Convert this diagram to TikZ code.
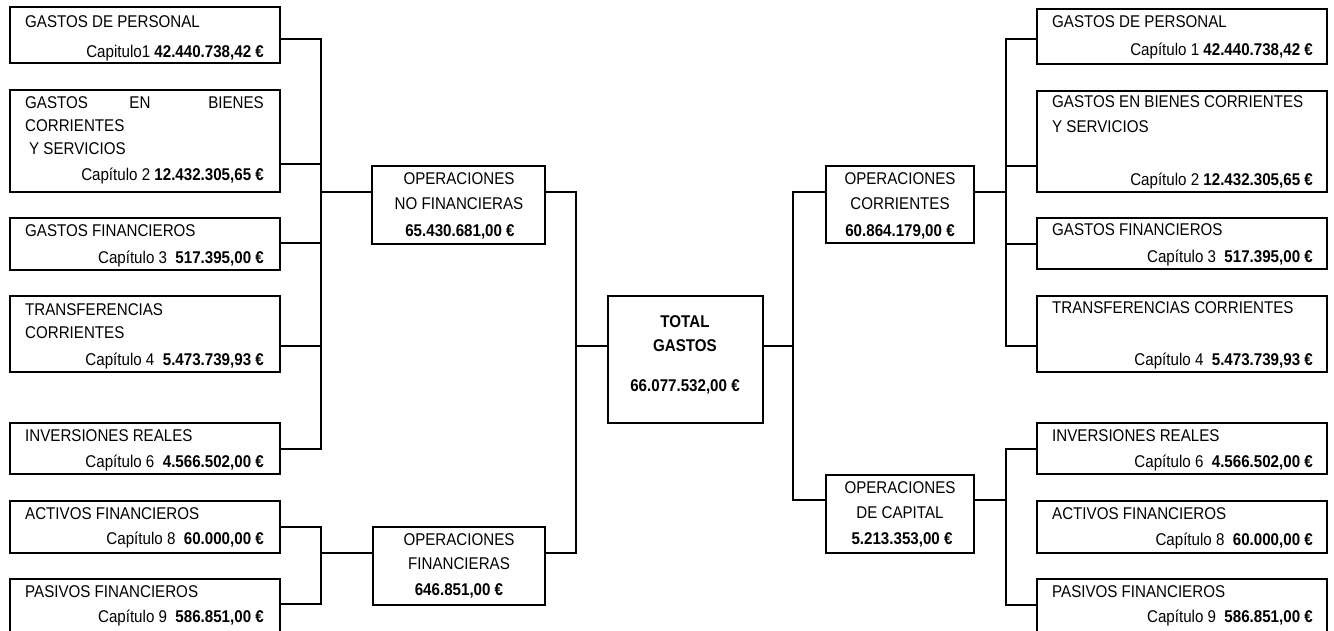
\documentclass[tikz,border=0pt]{standalone}
\usepackage{fontspec}
\setmainfont{Liberation Sans}[FakeStretch=0.89]

\begin{document}
\begin{tikzpicture}[x=1pt,y=-1pt,
	caja/.style={draw,line width=2pt,inner sep=0pt,outer sep=0pt,anchor=north west},
	rotulo/.style={inner sep=0pt,font=\fontsize{17}{20}\selectfont},
	conector/.style={line width=2pt,line cap=rect}]
	\useasboundingbox (0,0) rectangle (1334,630);
	\clip (0,0) rectangle (1334,630);

	% capitulos, lado izquierdo
	\node[caja,minimum width=270pt,minimum height=56pt] (l1) at (10,7) {};
	\node[caja,minimum width=270pt,minimum height=102pt] (l2) at (10,90) {};
	\node[caja,minimum width=270pt,minimum height=52pt] (l3) at (10,218) {};
	\node[caja,minimum width=270pt,minimum height=76pt] (l4) at (10,296) {};
	\node[caja,minimum width=270pt,minimum height=51pt] (l5) at (10,423) {};
	\node[caja,minimum width=270pt,minimum height=52pt] (l6) at (10,501) {};
	\node[caja,minimum width=270pt,minimum height=60pt] (l7) at (10,579) {};

	% operaciones y total
	\node[caja,minimum width=173pt,minimum height=78pt] (onf) at (372,166) {};
	\node[caja,minimum width=172pt,minimum height=78pt] (of) at (373,527) {};
	\node[caja,minimum width=155pt,minimum height=127pt] (tot) at (608,296) {};
	\node[caja,minimum width=148pt,minimum height=77pt] (oc) at (826,166) {};
	\node[caja,minimum width=148pt,minimum height=78pt] (ocap) at (826,475) {};

	% capitulos, lado derecho
	\node[caja,minimum width=290pt,minimum height=55pt] (r1) at (1037,9) {};
	\node[caja,minimum width=290pt,minimum height=101pt] (r2) at (1037,91) {};
	\node[caja,minimum width=290pt,minimum height=51pt] (r3) at (1037,218) {};
	\node[caja,minimum width=290pt,minimum height=76pt] (r4) at (1037,296) {};
	\node[caja,minimum width=290pt,minimum height=51pt] (r5) at (1037,423) {};
	\node[caja,minimum width=290pt,minimum height=52pt] (r6) at (1037,501) {};
	\node[caja,minimum width=290pt,minimum height=60pt] (r7) at (1037,579) {};

	% textos izquierda
	\node[rotulo,anchor=base west] (l1a) at (25,27) {GASTOS DE PERSONAL};
	\node[rotulo,anchor=base east] (l1b) at (264,57) {Capitulo1 \textbf{42.440.738,42 €}};
	\node[rotulo,anchor=base west] (l2a) at (25,108) {GASTOS};
	\node[rotulo,anchor=base] (l2b) at (140,108) {EN};
	\node[rotulo,anchor=base east] (l2c) at (264,108) {BIENES};
	\node[rotulo,anchor=base west] (l2d) at (25,131) {CORRIENTES};
	\node[rotulo,anchor=base west] (l2e) at (29,154) {Y SERVICIOS};
	\node[rotulo,anchor=base east] (l2f) at (264,180) {Capítulo 2 \textbf{12.432.305,65 €}};
	\node[rotulo,anchor=base west] (l3a) at (25,236) {GASTOS FINANCIEROS};
	\node[rotulo,anchor=base east] (l3b) at (264,263) {Capítulo 3\ \ \textbf{517.395,00 €}};
	\node[rotulo,anchor=base west] (l4a) at (25,315) {TRANSFERENCIAS};
	\node[rotulo,anchor=base west] (l4b) at (25,338) {CORRIENTES};
	\node[rotulo,anchor=base east] (l4c) at (264,365) {Capítulo 4\ \ \textbf{5.473.739,93 €}};
	\node[rotulo,anchor=base west] (l5a) at (25,441) {INVERSIONES REALES};
	\node[rotulo,anchor=base east] (l5b) at (264,467) {Capítulo 6\ \ \textbf{4.566.502,00 €}};
	\node[rotulo,anchor=base west] (l6a) at (25,519) {ACTIVOS FINANCIEROS};
	\node[rotulo,anchor=base east] (l6b) at (264,544) {Capítulo 8\ \ \textbf{60.000,00 €}};
	\node[rotulo,anchor=base west] (l7a) at (25,597) {PASIVOS FINANCIEROS};
	\node[rotulo,anchor=base east] (l7b) at (264,622) {Capítulo 9\ \ \textbf{586.851,00 €}};

	% textos centro
	\node[rotulo,anchor=base] (onfa) at (459,184) {OPERACIONES};
	\node[rotulo,anchor=base] (onfb) at (459,209) {NO FINANCIERAS};
	\node[rotulo,anchor=base] (onfc) at (460,236) {\textbf{65.430.681,00 €}};
	\node[rotulo,anchor=base] (ofa) at (459,545) {OPERACIONES};
	\node[rotulo,anchor=base] (ofb) at (459,569) {FINANCIERAS};
	\node[rotulo,anchor=base] (ofc) at (459,595) {\textbf{646.851,00 €}};
	\node[rotulo,anchor=base] (tota) at (685,327) {\textbf{TOTAL}};
	\node[rotulo,anchor=base] (totb) at (685,351) {\textbf{GASTOS}};
	\node[rotulo,anchor=base] (totc) at (685,391) {\textbf{66.077.532,00 €}};
	\node[rotulo,anchor=base] (oca) at (900,184) {OPERACIONES};
	\node[rotulo,anchor=base] (ocb) at (900,209) {CORRIENTES};
	\node[rotulo,anchor=base] (occ) at (900,236) {\textbf{60.864.179,00 €}};
	\node[rotulo,anchor=base] (ocapa) at (900,493) {OPERACIONES};
	\node[rotulo,anchor=base] (ocapb) at (900,518) {DE CAPITAL};
	\node[rotulo,anchor=base] (ocapc) at (902,544) {\textbf{5.213.353,00 €}};

	% textos derecha
	\node[rotulo,anchor=base west] (r1a) at (1052,27) {GASTOS DE PERSONAL};
	\node[rotulo,anchor=base east] (r1b) at (1313,55) {Capítulo 1 \textbf{42.440.738,42 €}};
	\node[rotulo,anchor=base west] (r2a) at (1052,107) {GASTOS EN BIENES CORRIENTES};
	\node[rotulo,anchor=base west] (r2b) at (1052,132) {Y SERVICIOS};
	\node[rotulo,anchor=base east] (r2c) at (1313,185) {Capítulo 2 \textbf{12.432.305,65 €}};
	\node[rotulo,anchor=base west] (r3a) at (1052,235) {GASTOS FINANCIEROS};
	\node[rotulo,anchor=base east] (r3b) at (1313,262) {Capítulo 3\ \ \textbf{517.395,00 €}};
	\node[rotulo,anchor=base west] (r4a) at (1052,313) {TRANSFERENCIAS CORRIENTES};
	\node[rotulo,anchor=base east] (r4b) at (1313,365) {Capítulo 4\ \ \textbf{5.473.739,93 €}};
	\node[rotulo,anchor=base west] (r5a) at (1052,441) {INVERSIONES REALES};
	\node[rotulo,anchor=base east] (r5b) at (1313,467) {Capítulo 6\ \ \textbf{4.566.502,00 €}};
	\node[rotulo,anchor=base west] (r6a) at (1052,519) {ACTIVOS FINANCIEROS};
	\node[rotulo,anchor=base east] (r6b) at (1313,545) {Capítulo 8\ \ \textbf{60.000,00 €}};
	\node[rotulo,anchor=base west] (r7a) at (1052,597) {PASIVOS FINANCIEROS};
	\node[rotulo,anchor=base east] (r7b) at (1313,622) {Capítulo 9\ \ \textbf{586.851,00 €}};

	% puntos de enganche
	\foreach \n/\d in {l1/32,l2/74,l3/25,l4/50,l5/26,l6/26,l7/25}
		\coordinate (\n-c) at ([yshift=-\d pt]\n.north east);
	\foreach \n/\d in {r1/30,r2/75,r3/26,r4/50,r5/26,r7/26}
		\coordinate (\n-c) at ([yshift=-\d pt]\n.north west);
	\foreach \n/\d in {onf/26,of/26,tot/50,oc/26,ocap/25} {
		\coordinate (\n-w) at ([yshift=-\d pt]\n.north west);
		\coordinate (\n-e) at ([yshift=-\d pt]\n.north east);
	}
	\coordinate (busA) at (321,0);
	\coordinate (busC) at (576,0);
	\coordinate (busD) at (793,0);
	\coordinate (busE) at (1006,0);

	% conectores
	\foreach \n in {l1,l2,l3,l4,l5,l6,l7}
		\draw[conector] (\n-c) -- (\n-c -| busA);
	\draw[conector] (l1-c -| busA) -- (l5-c -| busA);
	\draw[conector] (l6-c -| busA) -- (l7-c -| busA);
	\draw[conector] (onf-w) -- (onf-w -| busA);
	\draw[conector] (of-w) -- (of-w -| busA);

	\draw[conector] (onf-e) -| (busC |- of-e) -- (of-e);
	\draw[conector] (tot-w) -- (tot-w -| busC);

	\draw[conector] (tot-e) -- (tot-e -| busD);
	\draw[conector] (oc-w) -| (busD |- ocap-w) -- (ocap-w);

	\foreach \n in {r1,r2,r3,r4,r5,r7}
		\draw[conector] (\n-c) -- (\n-c -| busE);
	\draw[conector] (r1-c -| busE) -- (r4-c -| busE);
	\draw[conector] (r5-c -| busE) -- (r7-c -| busE);
	\draw[conector] (oc-e) -- (oc-e -| busE);
	\draw[conector] (ocap-e) -- (ocap-e -| busE);
\end{tikzpicture}
\end{document}
